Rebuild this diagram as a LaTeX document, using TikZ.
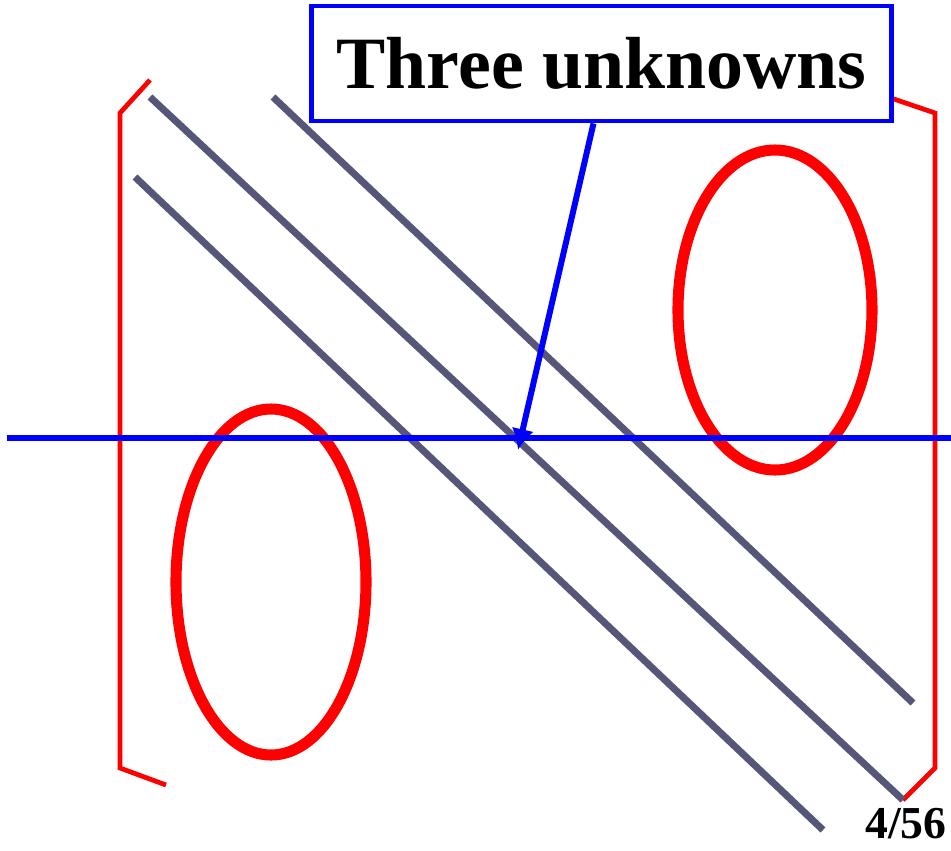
\documentclass[tikz,border=0pt]{standalone}
\usepackage{fontspec}
\setmainfont{Liberation Serif}
\usepackage{xcolor}
\usetikzlibrary{arrows.meta}

\definecolor{slate}{RGB}{86,86,120}

\begin{document}
\begin{tikzpicture}[x=0.02cm, y=-0.02cm]
    \useasboundingbox (0,0) rectangle (951,850);

    % ===== Brackets =====
    \draw[red, line width=2.7pt] (150,80) -- (120,113) -- (120,768) -- (166,785);
    \draw[red, line width=2.7pt] (888,97) -- (935,113) -- (935,768) -- (903,800);

    % ===== Diagonal lines =====
    \foreach \xa/\ya/\xb/\yb in {273/97/913/703, 150/97/903/800, 135/177/823/830} {
        \draw[slate, line width=4pt] (\xa,\ya) -- (\xb,\yb);
    }

    % ===== Ellipses =====
    \draw[red, line width=6.3pt] (271,582) ellipse (95 and 173);
    \draw[red, line width=6.3pt] (775,310) ellipse (97 and 160);

    % Horizontal line
    \draw[blue, line width=3.4pt] (7,438) -- (951,438);

    % ===== Label box and arrow =====
    \node[draw=blue, line width=2.8pt, fill=white, minimum width=11.62cm, minimum height=2.3cm,
          inner sep=0pt, font=\fontsize{42}{50}\selectfont\bfseries] (box) at (601.5,63.5) {Three unknowns};
    \coordinate (tip) at (518,450);
    \draw[blue, line width=3.4pt, -{Latex[length=0.42cm, width=0.45cm]}] ([xshift=-0.16cm]box.south) -- (tip);

    % Page number
    \node[anchor=base east, inner sep=0pt, font=\fontsize{26}{30}\selectfont\bfseries] (page) at (947,838) {4/56};
\end{tikzpicture}
\end{document}
